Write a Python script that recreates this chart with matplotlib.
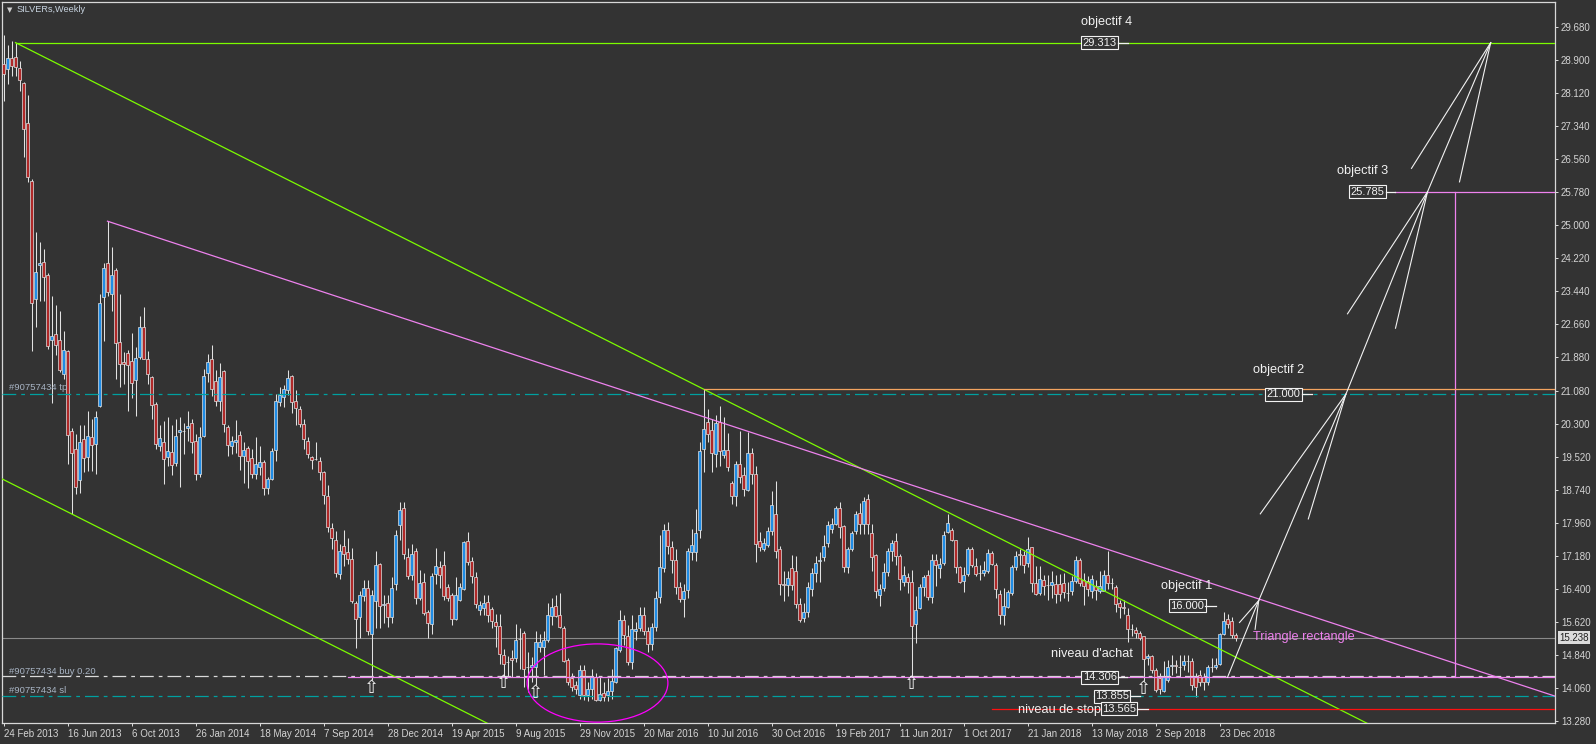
import matplotlib
matplotlib.use("Agg")
import matplotlib.pyplot as plt
from matplotlib.patches import Ellipse
from matplotlib.transforms import blended_transform_factory
import numpy as np
import pandas as pd

# ---- weekly candles (SILVER, from 24 Feb 2013) ----
opens = [
    28.81, 28.69, 28.95, 28.97, 28.71, 28.36, 27.41, 26.05, 23.24, 24.05,
    24.12, 23.82, 22.29, 22.43, 22.28, 21.48, 22.01, 20.14, 19.70, 18.96,
    19.94, 19.52, 19.98, 19.83, 20.73, 23.30, 24.10, 23.37, 23.94, 22.23,
    21.76, 21.97, 21.78, 21.34, 21.88, 22.58, 21.82, 21.40, 20.77, 19.78,
    19.88, 19.52, 19.64, 19.38, 20.10, 20.12, 20.20, 20.31, 19.90, 19.11,
    20.02, 21.50, 21.82, 21.30, 20.85, 21.55, 20.23, 19.78, 19.88, 20.04,
    19.54, 19.72, 19.50, 19.11, 19.28, 19.40, 18.78, 18.99, 19.68, 20.81,
    20.93, 21.11, 21.42, 20.83, 20.65, 20.30, 19.90, 19.52, 19.47, 19.41,
    19.16, 18.59, 17.83, 17.56, 16.75, 17.42, 17.26, 17.11, 16.07, 15.72,
    16.22, 16.42, 15.32, 16.12, 16.98, 16.02, 16.06, 15.72, 16.50, 17.90,
    18.30, 17.14, 16.72, 17.29, 16.18, 16.57, 15.84, 15.56, 16.75, 16.91,
    16.97, 16.43, 16.26, 15.69, 16.14, 16.40, 17.52, 17.05, 16.67, 15.90,
    15.94, 16.08, 15.92, 15.61, 15.53, 14.83, 14.66, 14.75, 14.75, 15.22,
    15.35, 14.54, 14.55, 14.55, 15.03, 15.03, 15.19, 15.76, 16.00, 15.78,
    15.48, 14.71, 14.28, 14.12, 13.88, 14.47, 13.88, 14.04, 14.32, 13.78,
    13.94, 13.88, 13.97, 14.20, 14.95, 15.66, 15.29, 14.66, 15.40, 15.46,
    15.78, 15.40, 15.10, 15.50, 16.21, 16.88, 17.80, 17.38, 17.07, 16.45,
    16.16, 16.38, 17.27, 17.27, 17.80, 19.70, 20.34, 20.15, 19.58, 20.34,
    19.57, 19.68, 18.91, 18.59, 19.36, 19.09, 18.73, 19.62, 19.12, 17.52,
    17.35, 17.43, 17.76, 18.16, 17.35, 16.51, 16.48, 16.89, 16.81, 16.04,
    15.70, 15.84, 16.40, 16.77, 17.06, 17.14, 17.48, 17.82, 17.94, 18.30,
    17.88, 16.91, 17.35, 17.76, 18.20, 17.92, 18.52, 17.72, 17.19, 16.26,
    16.42, 16.80, 17.30, 17.53, 17.17, 16.57, 16.67, 16.57, 15.56, 15.94,
    16.43, 16.72, 16.20, 17.07, 16.88, 17.01, 17.75, 17.78, 17.56, 16.91,
    16.59, 16.75, 17.35, 16.93, 16.77, 16.77, 16.81, 17.25, 16.97, 16.27,
    15.78, 15.96, 16.30, 16.91, 17.21, 17.19, 17.01, 17.38, 16.54, 16.30,
    16.61, 16.48, 16.48, 16.51, 16.51, 16.54, 16.30, 16.34, 16.59, 17.07,
    16.61, 16.59, 16.35, 16.46, 16.34, 16.35, 16.72, 16.53, 16.43, 16.06,
    15.96, 15.78, 15.44, 15.43, 15.35, 15.27, 14.77, 14.80, 14.48, 14.30,
    13.98, 14.24, 14.57, 14.60, 14.54, 14.60, 14.70, 14.70, 14.32, 14.36,
    14.32, 14.20, 14.55, 14.54, 14.62, 15.34, 15.68, 15.63, 15.30,
]
highs = [
    29.49, 29.26, 29.34, 29.31, 28.89, 28.38, 28.08, 26.09, 24.84, 24.59,
    24.43, 23.86, 23.32, 23.10, 22.96, 22.49, 22.04, 20.21, 20.06, 20.26,
    20.26, 20.60, 20.41, 20.60, 23.38, 24.10, 25.09, 24.48, 23.98, 23.38,
    22.00, 22.04, 22.45, 22.12, 22.85, 23.05, 22.02, 21.44, 20.81, 20.28,
    20.37, 20.47, 20.28, 20.41, 20.45, 20.33, 20.60, 20.41, 20.06, 20.23,
    21.60, 21.96, 22.16, 21.58, 21.74, 21.56, 20.26, 20.02, 20.38, 20.12,
    19.86, 19.78, 19.70, 19.98, 19.78, 19.44, 19.03, 19.72, 21.01, 21.17,
    21.21, 21.56, 21.45, 21.09, 20.73, 20.42, 19.98, 19.54, 19.86, 19.52,
    19.19, 18.85, 17.96, 17.76, 17.45, 17.78, 17.60, 17.37, 16.11, 16.34,
    16.61, 16.61, 16.38, 17.29, 17.01, 16.26, 16.26, 16.67, 17.78, 18.45,
    18.46, 17.37, 17.45, 17.37, 16.85, 16.77, 15.90, 16.77, 17.37, 17.05,
    17.30, 16.51, 16.30, 16.67, 16.53, 17.54, 17.74, 17.14, 16.79, 16.10,
    16.24, 16.24, 15.96, 15.80, 15.80, 14.97, 14.81, 14.94, 15.56, 15.46,
    15.39, 14.91, 14.79, 15.39, 15.32, 15.39, 16.06, 16.18, 16.24, 16.30,
    15.53, 14.75, 14.40, 14.21, 14.59, 14.59, 14.20, 14.51, 14.40, 14.32,
    14.20, 14.28, 14.51, 15.03, 15.90, 15.78, 15.54, 15.78, 15.62, 15.96,
    15.96, 15.50, 15.60, 16.34, 17.67, 17.92, 17.98, 17.54, 17.35, 16.57,
    16.51, 17.37, 17.82, 18.28, 19.88, 21.12, 20.65, 20.42, 20.50, 20.73,
    20.47, 20.08, 18.95, 19.43, 20.12, 19.27, 20.10, 19.73, 19.31, 17.75,
    17.59, 17.86, 18.70, 18.95, 17.41, 16.83, 16.83, 17.19, 17.17, 16.18,
    16.06, 16.57, 16.89, 17.17, 17.27, 17.68, 18.00, 18.08, 18.36, 18.44,
    17.90, 17.38, 17.76, 18.24, 18.43, 18.57, 18.63, 17.94, 17.21, 16.51,
    17.01, 17.37, 17.56, 17.72, 17.21, 16.93, 16.77, 16.85, 16.22, 16.50,
    16.73, 16.85, 17.21, 17.21, 17.13, 17.76, 18.17, 17.84, 17.56, 16.93,
    16.91, 17.38, 17.38, 17.13, 16.97, 17.05, 17.33, 17.29, 17.01, 16.38,
    16.42, 16.38, 16.97, 17.29, 17.33, 17.29, 17.62, 17.38, 16.93, 16.93,
    16.73, 16.73, 16.81, 16.73, 16.75, 16.77, 16.57, 16.69, 17.17, 17.12,
    16.77, 16.69, 16.73, 16.61, 16.81, 16.85, 17.29, 16.65, 16.49, 16.14,
    16.14, 15.94, 15.56, 15.50, 15.40, 15.29, 14.85, 14.84, 14.52, 14.40,
    14.68, 14.72, 14.84, 14.72, 14.84, 14.84, 14.84, 14.75, 14.40, 14.48,
    14.40, 14.60, 14.76, 14.76, 15.36, 15.84, 15.80, 15.72, 15.36,
]
lows = [
    27.94, 28.34, 28.53, 28.52, 28.18, 26.62, 26.02, 22.02, 22.59, 23.21,
    23.21, 22.08, 20.79, 21.92, 21.52, 21.36, 19.36, 18.17, 18.65, 18.67,
    19.17, 19.19, 19.19, 19.12, 20.69, 22.26, 23.32, 22.97, 21.36, 21.17,
    21.25, 20.61, 20.91, 20.49, 21.84, 21.82, 21.25, 20.41, 19.70, 19.66,
    18.87, 19.30, 19.09, 19.30, 18.80, 19.58, 19.90, 19.60, 18.96, 19.04,
    19.98, 21.28, 20.95, 20.73, 20.60, 20.10, 19.54, 19.58, 19.60, 19.20,
    18.91, 18.78, 19.01, 18.99, 19.09, 18.62, 18.63, 18.97, 19.43, 20.73,
    20.69, 20.97, 20.55, 20.26, 20.22, 19.70, 19.50, 19.23, 19.44, 18.97,
    18.41, 17.75, 17.33, 16.67, 16.64, 16.93, 16.99, 16.06, 14.99, 15.23,
    16.10, 15.31, 14.24, 15.47, 15.48, 15.58, 15.50, 15.58, 16.38, 17.56,
    17.11, 16.64, 16.61, 16.04, 16.14, 15.78, 15.23, 15.32, 16.51, 16.41,
    16.14, 16.10, 15.54, 15.66, 16.10, 16.38, 16.97, 16.53, 15.94, 15.78,
    15.78, 15.62, 15.46, 15.03, 14.63, 14.34, 14.34, 14.32, 14.66, 14.51,
    14.08, 13.96, 14.20, 14.12, 14.91, 14.36, 15.15, 15.54, 15.72, 15.48,
    14.66, 14.12, 13.98, 13.92, 13.80, 13.76, 13.74, 13.80, 13.74, 13.74,
    13.74, 13.74, 13.80, 14.18, 14.91, 15.07, 14.59, 14.51, 15.19, 15.40,
    15.30, 14.90, 14.95, 15.40, 16.06, 16.80, 17.21, 16.77, 16.27, 16.08,
    15.74, 16.18, 17.07, 17.05, 17.60, 19.17, 19.86, 19.17, 19.27, 19.31,
    19.50, 19.19, 18.40, 18.36, 18.91, 18.59, 18.71, 18.87, 17.03, 17.29,
    17.29, 17.38, 17.68, 17.13, 16.26, 16.11, 16.22, 16.38, 15.94, 15.62,
    15.62, 15.74, 16.22, 16.57, 16.57, 17.05, 17.38, 17.72, 17.90, 17.60,
    16.80, 16.77, 17.30, 17.70, 17.70, 17.70, 17.70, 16.81, 16.18, 15.98,
    16.34, 16.69, 17.05, 16.97, 16.38, 16.46, 16.30, 14.32, 15.11, 15.92,
    16.22, 16.14, 16.06, 16.46, 16.65, 16.97, 17.72, 17.52, 16.77, 16.53,
    16.32, 16.69, 16.91, 16.69, 16.61, 16.69, 16.77, 16.95, 16.18, 15.56,
    15.54, 15.94, 16.26, 16.85, 16.97, 16.77, 16.91, 16.32, 16.24, 16.26,
    16.26, 16.14, 16.18, 16.06, 16.10, 16.19, 16.12, 16.26, 16.53, 16.46,
    16.02, 16.22, 16.18, 16.14, 16.30, 16.34, 16.40, 16.40, 15.86, 15.70,
    15.80, 15.15, 15.27, 15.23, 15.19, 14.21, 14.60, 14.40, 13.95, 13.92,
    13.95, 14.20, 14.36, 14.40, 14.32, 14.48, 14.44, 14.00, 13.84, 14.10,
    14.00, 14.12, 14.44, 14.50, 14.59, 15.30, 15.48, 15.24, 15.16,
]
closes = [
    28.57, 28.95, 28.77, 28.73, 28.42, 27.28, 26.14, 23.16, 23.88, 24.10,
    23.78, 22.13, 22.37, 22.16, 21.56, 22.05, 20.03, 19.60, 18.80, 19.86,
    19.49, 20.02, 19.80, 20.45, 23.15, 23.98, 23.42, 23.82, 22.20, 21.72,
    21.72, 21.70, 21.26, 21.86, 22.58, 21.84, 21.47, 20.75, 19.82, 19.96,
    19.46, 19.66, 19.32, 20.02, 20.15, 20.12, 20.25, 19.86, 19.12, 19.99,
    21.42, 21.76, 21.13, 20.85, 21.41, 20.30, 19.80, 19.90, 19.92, 19.54,
    19.68, 19.43, 19.12, 19.36, 19.40, 18.78, 18.99, 19.66, 20.83, 20.97,
    21.13, 21.39, 20.81, 20.68, 20.30, 19.94, 19.58, 19.44, 19.46, 19.15,
    18.62, 17.86, 17.59, 16.77, 17.30, 17.22, 17.11, 16.11, 15.69, 16.26,
    16.42, 15.39, 16.24, 16.97, 16.00, 16.03, 15.74, 16.42, 17.67, 18.25,
    17.22, 16.69, 17.22, 16.18, 16.53, 15.82, 15.58, 16.69, 16.93, 16.72,
    16.22, 16.19, 15.69, 16.26, 16.43, 17.51, 17.03, 16.69, 16.03, 16.02,
    16.06, 15.77, 15.64, 15.53, 14.85, 14.63, 14.66, 14.71, 15.19, 15.22,
    14.51, 14.54, 14.59, 15.13, 15.15, 15.19, 15.78, 15.96, 15.76, 15.50,
    14.69, 14.20, 14.08, 14.02, 14.47, 13.88, 14.04, 14.34, 13.76, 13.90,
    13.84, 13.97, 14.21, 14.99, 15.66, 15.30, 14.66, 15.45, 15.45, 15.77,
    15.40, 15.10, 15.50, 16.19, 16.91, 17.78, 17.41, 17.07, 16.43, 16.16,
    16.35, 17.29, 17.43, 17.72, 19.66, 20.18, 20.06, 19.60, 20.31, 19.65,
    19.68, 19.27, 18.59, 19.36, 19.03, 18.75, 19.62, 19.12, 17.45, 17.38,
    17.48, 17.76, 18.38, 17.30, 16.51, 16.48, 16.65, 16.48, 16.04, 15.66,
    15.86, 16.43, 16.77, 17.01, 17.07, 17.41, 17.90, 17.94, 18.30, 17.86,
    16.91, 17.35, 17.72, 18.16, 17.92, 18.48, 17.92, 17.14, 16.34, 16.40,
    16.79, 17.30, 17.48, 17.17, 16.64, 16.73, 16.57, 15.53, 15.90, 16.43,
    16.67, 16.20, 17.07, 16.97, 16.99, 17.67, 17.96, 17.56, 16.91, 16.57,
    16.73, 17.35, 16.97, 16.75, 16.77, 16.85, 17.25, 16.99, 16.40, 15.78,
    16.00, 16.32, 16.91, 17.17, 17.20, 16.97, 17.35, 16.54, 16.27, 16.64,
    16.46, 16.48, 16.56, 16.27, 16.27, 16.32, 16.30, 16.59, 17.09, 16.53,
    16.46, 16.40, 16.64, 16.38, 16.46, 16.72, 16.53, 16.53, 16.03, 15.96,
    15.95, 15.45, 15.44, 15.35, 15.23, 14.74, 14.80, 14.47, 14.00, 14.04,
    14.32, 14.54, 14.60, 14.58, 14.56, 14.68, 14.70, 14.12, 14.08, 14.20,
    14.19, 14.54, 14.56, 14.60, 15.32, 15.64, 15.56, 15.30, 15.24,
]

price_ticks = [29.68, 28.90, 28.12, 27.34, 26.56, 25.78, 25.00, 24.22, 23.44,
               22.66, 21.88, 21.08, 20.30, 19.52, 18.74, 17.96, 17.18, 16.40,
               15.62, 14.84, 14.06, 13.28]

# levels
bid = 15.238
order_tp = 21.000
order_buy = 14.306
order_sl = 13.855
stop_level = 13.565
swing_high = 21.12
objectives = [16.000, 21.000, 25.785, 29.313]
signal_weeks = [92, 125, 133, 227, 285]

# drawn objects, (candle index, price)
channel_top = [(3, 29.313), (175, 21.12)]
channel_low = (17, 18.17)
triangle_top = [(26, 25.09), (388, 13.856)]
path_x = [306, 313.8, 335.6, 356.0, 371.8]
path_y = [14.306, 16.12, 21.0, 25.785, 29.313]
barb_x = [(309.0, 312.9), (314.2, 326.2), (336.0, 348.0), (352.0, 364.0)]
barb_y = [(15.60, 15.44), (18.17, 18.05), (22.90, 22.56), (26.34, 26.02)]

BG = '#333333'
FRAME = '#D8D8D8'
WICK = '#E2E2E2'
BULL = '#1E8CE6'
BEAR = '#B02828'
GREEN = '#7CFC00'
VIOLET = '#EE82EE'
TEAL = '#00A0A0'
WHITE = '#F2F2F2'
DASHDOT = (0, (11, 4, 3, 4))

plt.rcParams['font.family'] = ['Liberation Sans', 'DejaVu Sans']


def main():
    fig = plt.figure(figsize=(15.96, 7.44), dpi=100, facecolor=BG)
    ax = fig.add_axes([2 / 1596, 21 / 744, 1553 / 1596, 721 / 744], facecolor=BG)
    ax.set_xlim(-0.375, 387.875)
    ax.set_ylim(13.2246, 30.2735)

    o, h, l, c = (np.array(v) for v in (opens, highs, lows, closes))
    x = np.arange(len(c))
    up = c >= o

    # candles
    ax.vlines(x, l, h, color=WICK, lw=0.75, zorder=2)
    ax.bar(x[up], (c - o)[up], bottom=o[up], width=0.62, color=BULL,
           edgecolor=WICK, linewidth=0.5, zorder=3)
    ax.bar(x[~up], (o - c)[~up], bottom=c[~up], width=0.62, color=BEAR,
           edgecolor=WICK, linewidth=0.5, zorder=3)

    # order lines
    ax.axhline(bid, color='#8A8A8A', lw=0.8, zorder=1)
    ax.axhline(order_tp, color=TEAL, lw=0.9, ls=DASHDOT, zorder=4)
    ax.axhline(order_sl, color=TEAL, lw=0.9, ls=DASHDOT, zorder=4)
    ax.axhline(order_buy + 0.03, color='#DADADA', lw=0.9, ls=DASHDOT, zorder=4)

    # channel lines
    (x0, y0), (x1, y1) = channel_top
    slope = (y1 - y0) / (x1 - x0)
    xe = 420
    ax.plot([x0, xe], [y0, y0 + slope * (xe - x0)], color=GREEN, lw=0.9, zorder=5)
    lx, ly = channel_low
    ax.plot([-5, xe], [ly + slope * (-5 - lx), ly + slope * (xe - lx)],
            color=GREEN, lw=0.9, zorder=5)
    ax.plot([x0, xe], [objectives[3]] * 2, color=GREEN, lw=0.9, zorder=5)

    (t0, p0), (t1, p1) = triangle_top
    ax.plot([t0, t1 + 10], [p0, p0 + (p1 - p0) / (t1 - t0) * (t1 + 10 - t0)],
            color=VIOLET, lw=0.9, zorder=5)
    ax.plot([86, xe], [order_buy] * 2, color=VIOLET, lw=0.9, zorder=5)
    ax.plot([347.9, xe], [objectives[2]] * 2, color=VIOLET, lw=0.9, zorder=5)
    ax.plot([362.95] * 2, [order_buy, objectives[2]], color=VIOLET, lw=0.9, zorder=5)
    ax.plot([175, xe], [swing_high] * 2, color='#F4A460', lw=0.9, zorder=5)
    ax.plot([247, xe], [stop_level] * 2, color='#FF1010', lw=0.9, zorder=5)

    ax.add_patch(Ellipse((148.5, 14.17), 35.2, 1.85, fill=False,
                         edgecolor='#FF00FF', lw=0.9, zorder=6))

    # projection arrows
    ax.plot(path_x, path_y, color=WHITE, lw=0.8, zorder=7)
    for (bx, by), jx, jy in zip(zip(barb_x, barb_y), path_x[1:], path_y[1:]):
        for k in range(2):
            ax.plot([bx[k], jx], [by[k], jy], color=WHITE, lw=0.8, zorder=7)

    # buy arrows under the lows
    for i in signal_weeks:
        ax.annotate('\u21e7', (i, l[i]), xytext=(0, 1), textcoords='offset points',
                    ha='center', va='top', fontsize=13, color=WHITE,
                    family='DejaVu Sans', zorder=8)

    # labels
    box = dict(boxstyle='square,pad=0.12', fc=BG, ec=WHITE, lw=0.8)
    txt = dict(color=WHITE, fontsize=9.2, ha='center', va='center', zorder=9)
    ax.text(275.8, 29.80, 'objectif 4', **txt)
    ax.text(339.8, 26.28, 'objectif 3', **txt)
    ax.text(318.9, 21.57, 'objectif 2', **txt)
    ax.text(295.9, 16.455, 'objectif 1', **txt)
    ax.text(272.0, 14.85, "niveau d'achat", **txt)
    ax.text(274.5, 13.53, 'niveau de stop', color=WHITE, fontsize=9.2,
            ha='right', va='center', zorder=9)
    ax.text(312.35, 15.25, 'Triangle rectangle', color=VIOLET, fontsize=9.2,
            ha='left', va='center', zorder=9)

    boxes = [(274.0, objectives[3], 278.5, 281.1),
             (341.0, objectives[2], 345.5, 347.9),
             (320.0, objectives[1], 324.5, 327.1),
             (295.95, objectives[0], 300.4, 303.05),
             (274.05, order_buy, 278.5, 280.8),
             (277.1, order_sl, 281.5, 284.0),
             (278.9, stop_level, 283.4, 286.05)]
    for bxc, val, s0, s1 in boxes:
        ax.text(bxc, val, f'{val:.3f}', color=WHITE, fontsize=8, ha='center',
                va='center', bbox=box, zorder=9)
        ax.plot([s0, s1], [val, val], color=WHITE, lw=0.9, zorder=9)

    side = dict(color='#A8B4C4', fontsize=6.8, ha='left', va='center', zorder=9)
    ax.text(1.4, 21.15, '#90757434 tp', **side)
    ax.text(1.4, 14.45, '#90757434 buy 0.20', **side)
    ax.text(1.4, 14.00, '#90757434 sl', **side)

    fig.text(7 / 1596, 1 - 10 / 744, '\u25bc', color='#D0D0D0', fontsize=5,
             va='center', family='DejaVu Sans')
    fig.text(17 / 1596, 1 - 10 / 744, 'SILVERs,Weekly', color='#C8D4E0',
             fontsize=6.6, va='center')

    # axes
    weeks = pd.date_range('2013-02-24', periods=len(c), freq='W-SUN')
    tick_idx = list(range(0, len(c), 16))
    ax.set_xticks(tick_idx)
    ax.set_xticklabels([f'{weeks[i].day} {weeks[i]:%b %Y}' for i in tick_idx],
                       ha='left')
    ax.yaxis.tick_right()
    ax.set_yticks(price_ticks)
    ax.set_yticklabels([f'{p:.3f}' for p in price_ticks])
    ax.tick_params(axis='both', colors=FRAME, length=2.2, width=0.72,
                   labelsize=7, labelcolor='#D4D4D4', pad=2)
    for sp in ax.spines.values():
        sp.set_color(FRAME)
        sp.set_linewidth(0.9)

    trans = blended_transform_factory(ax.transAxes, ax.transData)
    ax.text(1.0 + 4 / 1553, bid, '15.238', transform=trans, color='#202020',
            fontsize=7, ha='left', va='center', clip_on=False,
            bbox=dict(boxstyle='square,pad=0.15', fc='#DCDCDC', ec='none'))

    fig.savefig('out.png', dpi=100, facecolor=BG)


if __name__ == '__main__':
    main()
